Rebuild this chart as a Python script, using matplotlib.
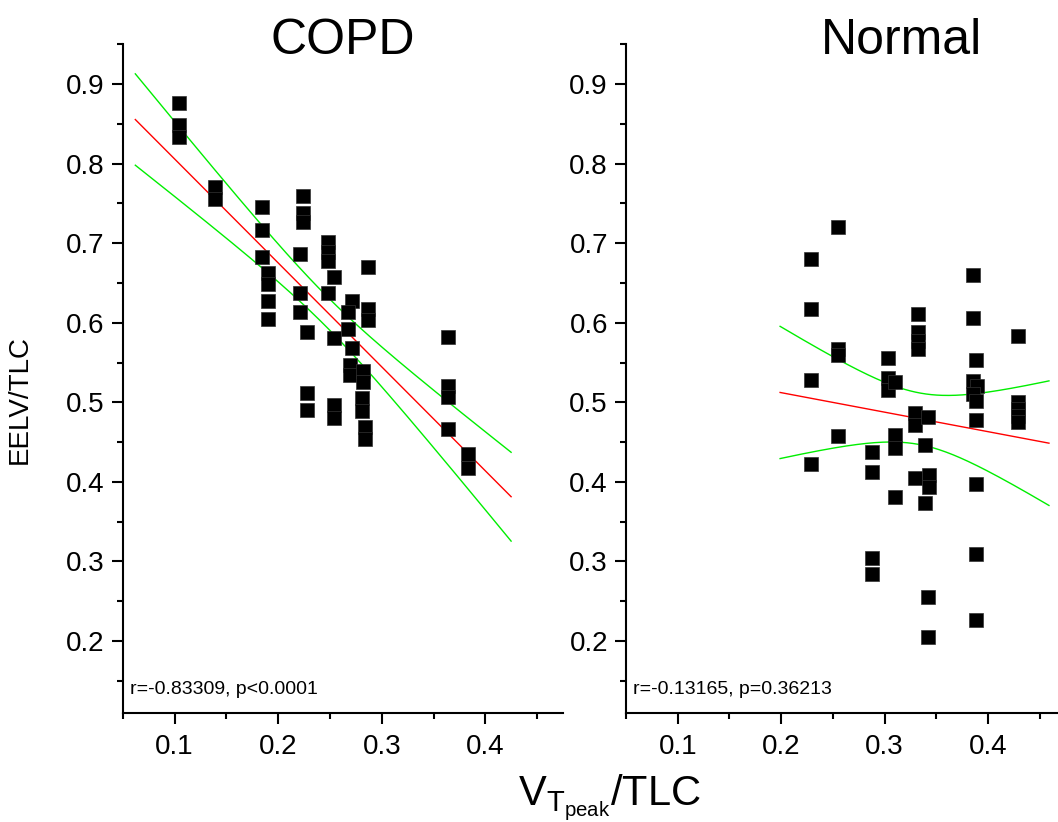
import numpy as np
import matplotlib
matplotlib.use("Agg")
import matplotlib.pyplot as plt
from matplotlib.ticker import MultipleLocator, FormatStrFormatter

plt.rcParams["font.family"] = ["Liberation Sans", "DejaVu Sans"]
plt.rcParams["mathtext.fontset"] = "custom"
plt.rcParams["mathtext.rm"] = "Liberation Sans"

# COPD group
copd_x = [0.104, 0.104, 0.104, 0.139, 0.139, 0.184, 0.184, 0.184, 0.190, 0.190,
          0.190, 0.190, 0.224, 0.224, 0.224, 0.221, 0.221, 0.221, 0.228, 0.228,
          0.228, 0.248, 0.248, 0.248, 0.254, 0.248, 0.254, 0.254, 0.254, 0.271,
          0.267, 0.267, 0.271, 0.269, 0.269, 0.282, 0.282, 0.281, 0.281, 0.284,
          0.284, 0.287, 0.287, 0.287, 0.364, 0.364, 0.364, 0.364, 0.383, 0.383]
copd_y = [0.876, 0.848, 0.834, 0.771, 0.755, 0.746, 0.716, 0.683, 0.663, 0.649,
          0.627, 0.605, 0.759, 0.738, 0.727, 0.687, 0.638, 0.613, 0.589, 0.512,
          0.490, 0.701, 0.689, 0.678, 0.657, 0.638, 0.581, 0.497, 0.480, 0.627,
          0.614, 0.592, 0.568, 0.547, 0.535, 0.540, 0.525, 0.506, 0.489, 0.469,
          0.454, 0.670, 0.617, 0.603, 0.582, 0.521, 0.507, 0.467, 0.435, 0.418]

# Normal group
normal_x = [0.229, 0.229, 0.229, 0.229, 0.255, 0.255, 0.255, 0.255, 0.288, 0.288,
            0.288, 0.288, 0.303, 0.303, 0.303, 0.310, 0.310, 0.310, 0.310, 0.332,
            0.332, 0.332, 0.332, 0.329, 0.329, 0.342, 0.339, 0.329, 0.343, 0.343,
            0.339, 0.342, 0.342, 0.386, 0.386, 0.388, 0.386, 0.389, 0.386, 0.388,
            0.388, 0.388, 0.388, 0.388, 0.429, 0.429, 0.429, 0.429, 0.429]
normal_y = [0.680, 0.617, 0.528, 0.422, 0.721, 0.567, 0.560, 0.458, 0.437, 0.412,
            0.304, 0.284, 0.556, 0.530, 0.516, 0.526, 0.459, 0.443, 0.381, 0.611,
            0.588, 0.577, 0.567, 0.486, 0.471, 0.482, 0.446, 0.405, 0.409, 0.393,
            0.374, 0.256, 0.205, 0.660, 0.606, 0.553, 0.527, 0.520, 0.510, 0.502,
            0.478, 0.397, 0.310, 0.226, 0.583, 0.500, 0.492, 0.483, 0.475]

copd_stats = "r=-0.83309, p<0.0001"
normal_stats = "r=-0.13165, p=0.36213"

T95 = 2.011  # t(0.975, ~48 dof)


def fit_with_band(x, y, margin=0.15):
    x = np.asarray(x)
    y = np.asarray(y)
    n = len(x)
    slope, intercept = np.polyfit(x, y, 1)
    resid = y - (slope * x + intercept)
    s = np.sqrt(np.sum(resid ** 2) / (n - 2))
    xbar = x.mean()
    sxx = np.sum((x - xbar) ** 2)
    span = x.max() - x.min()
    xf = np.linspace(x.min() - margin * span, x.max() + margin * span, 200)
    yf = slope * xf + intercept
    half = T95 * s * np.sqrt(1.0 / n + (xf - xbar) ** 2 / sxx)
    return xf, yf, yf - half, yf + half


def style_axes(ax):
    ax.set_xlim(0.05, 0.475)
    ax.set_ylim(0.11, 0.95)
    ax.xaxis.set_major_locator(MultipleLocator(0.1))
    ax.xaxis.set_minor_locator(MultipleLocator(0.05))
    ax.yaxis.set_major_locator(MultipleLocator(0.1))
    ax.yaxis.set_minor_locator(MultipleLocator(0.05))
    ax.xaxis.set_major_formatter(FormatStrFormatter("%.1f"))
    ax.yaxis.set_major_formatter(FormatStrFormatter("%.1f"))
    for side in ["top", "right"]:
        ax.spines[side].set_visible(False)
    for side in ["left", "bottom"]:
        ax.spines[side].set_linewidth(1.5)
    ax.tick_params(which="major", direction="out", length=8, width=1.5, labelsize=20)
    ax.tick_params(which="minor", direction="out", length=4.3, width=1.5)
    ax.tick_params(axis="x", which="major", pad=7)
    ax.tick_params(axis="y", which="major", pad=5)


fig = plt.figure(figsize=(10.58, 8.22), dpi=100)
ax1 = fig.add_axes([0.116, 0.133, 0.4162, 0.8131])
ax2 = fig.add_axes([0.5917, 0.133, 0.4154, 0.8131])

for ax, xs, ys, stats in [(ax1, copd_x, copd_y, copd_stats),
                          (ax2, normal_x, normal_y, normal_stats)]:
    xf, yf, lo, hi = fit_with_band(xs, ys)
    ax.plot(xf, yf, color="#ff0000", lw=1.0, zorder=2)
    ax.plot(xf, lo, color="#00ee00", lw=1.0, zorder=2)
    ax.plot(xf, hi, color="#00ee00", lw=1.0, zorder=2)
    ax.plot(xs, ys, "s", color="black", ms=10, mec="#333333", mew=0.5, zorder=3)
    ax.text(0.017, 0.022, stats, transform=ax.transAxes, fontsize=14,
            ha="left", va="bottom")
    style_axes(ax)

ax1.text(0.5, 1.005, "COPD", transform=ax1.transAxes, fontsize=36,
         ha="center", va="center")
ax2.text(0.626, 1.005, "Normal", transform=ax2.transAxes, fontsize=36,
         ha="center", va="center")

ax1.set_ylabel("EELV/TLC", fontsize=20)
ax1.yaxis.set_label_coords(-0.205, 0.469)

fig.text(610 / 1058, 1 - 805 / 822, r"$\mathregular{V_{T_{peak}}/TLC}$",
         fontsize=30, ha="center", va="baseline")

fig.savefig("out.png", dpi=100)
